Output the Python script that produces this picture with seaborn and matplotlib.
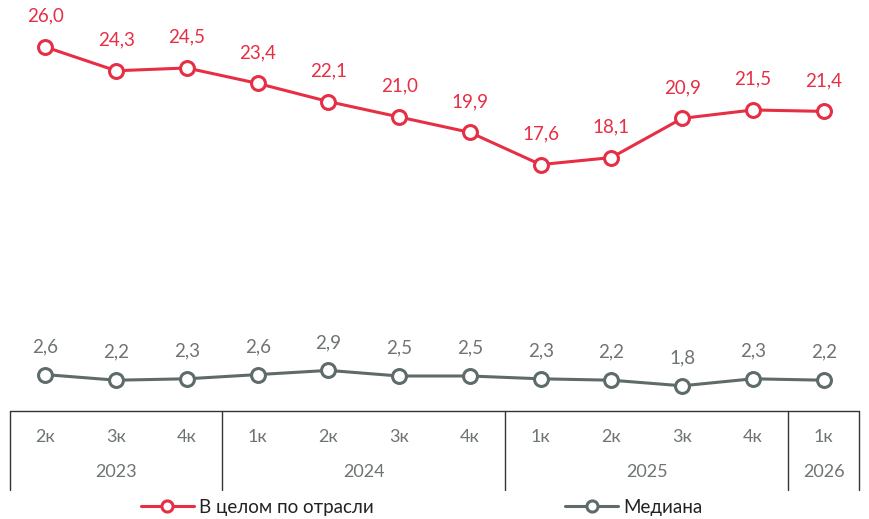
import pandas as pd
import seaborn as sns
import matplotlib.pyplot as plt
import matplotlib.transforms as mtransforms

quarters = ["2к", "3к", "4к", "1к", "2к", "3к", "4к", "1к", "2к", "3к", "4к", "1к"]
years = ["2023", "2024", "2025", "2026"]
year_spans = [3, 4, 4, 1]
otrasl = [26.0, 24.3, 24.5, 23.4, 22.1, 21.0, 19.9, 17.6, 18.1, 20.9, 21.5, 21.4]
mediana = [2.6, 2.2, 2.3, 2.6, 2.9, 2.5, 2.5, 2.3, 2.2, 1.8, 2.3, 2.2]
series_names = ["В целом по отрасли", "Медиана"]

red = "#E62E45"
gray = "#5E6B6A"
text_gray = "#6E7473"

n = len(quarters)
df = pd.DataFrame({
    "pos": list(range(n)) * 2,
    "value": otrasl + mediana,
    "series": [series_names[0]] * n + [series_names[1]] * n,
})

sns.set_style("white")
plt.rcParams["font.family"] = ["Lato", "DejaVu Sans"]

fig = plt.figure(figsize=(8.7, 5.19), dpi=100)
ax = fig.add_axes([10 / 870, 1 - 411 / 519, 849 / 870, 401 / 519])

sns.lineplot(data=df, x="pos", y="value", hue="series",
             palette={series_names[0]: red, series_names[1]: gray},
             marker="o", markersize=10, markerfacecolor="white",
             markeredgewidth=2.2, linewidth=2.2, ax=ax, legend=True)
for line in ax.lines:
    line.set_markeredgecolor(line.get_color())

# подписи значений
for i, v in enumerate(otrasl):
    ax.annotate(f"{v:.1f}".replace(".", ","), (i, v), xytext=(0, 16),
                textcoords="offset points", ha="center", va="bottom",
                color=red, fontsize=13.5)
for i, v in enumerate(mediana):
    ax.annotate(f"{v:.1f}".replace(".", ","), (i, v), xytext=(0, 14),
                textcoords="offset points", ha="center", va="bottom",
                color=text_gray, fontsize=13.5)

ax.set_xlim(-0.5, n - 0.5)
ax.set_ylim(0, 28.64)
ax.set_xticks([])
ax.set_yticks([])
ax.set_xlabel("")
ax.set_ylabel("")
sns.despine(ax=ax, left=True, bottom=True)

# таблица с кварталами и годами
trans = mtransforms.blended_transform_factory(ax.transData, ax.transAxes)
ax.plot([-0.5, n - 0.5], [0, 0], transform=trans, color="#333333",
        linewidth=1, clip_on=False)
for i, q in enumerate(quarters):
    ax.text(i, -0.065, q, transform=trans, ha="center", va="center",
            color=text_gray, fontsize=13)
start = 0
edges = [-0.5]
for y, s in zip(years, year_spans):
    ax.text(start + (s - 1) / 2, -0.152, y, transform=trans, ha="center",
            va="center", color=text_gray, fontsize=13)
    start += s
    edges.append(start - 0.5)
for e in edges:
    ax.plot([e, e], [0, -0.197], transform=trans, color="#333333",
            linewidth=1, clip_on=False)

handles, labels = ax.get_legend_handles_labels()
for h in handles:
    h.set_markersize(8)
ax.legend_.remove()
fig.legend(handles, labels, loc="center", bbox_to_anchor=(0.485, 0.023),
           ncol=2, frameon=False, fontsize=13.5, handlelength=2.8,
           handletextpad=0.3, columnspacing=10.2, labelcolor="#222222")

fig.savefig("out.png", dpi=100)
